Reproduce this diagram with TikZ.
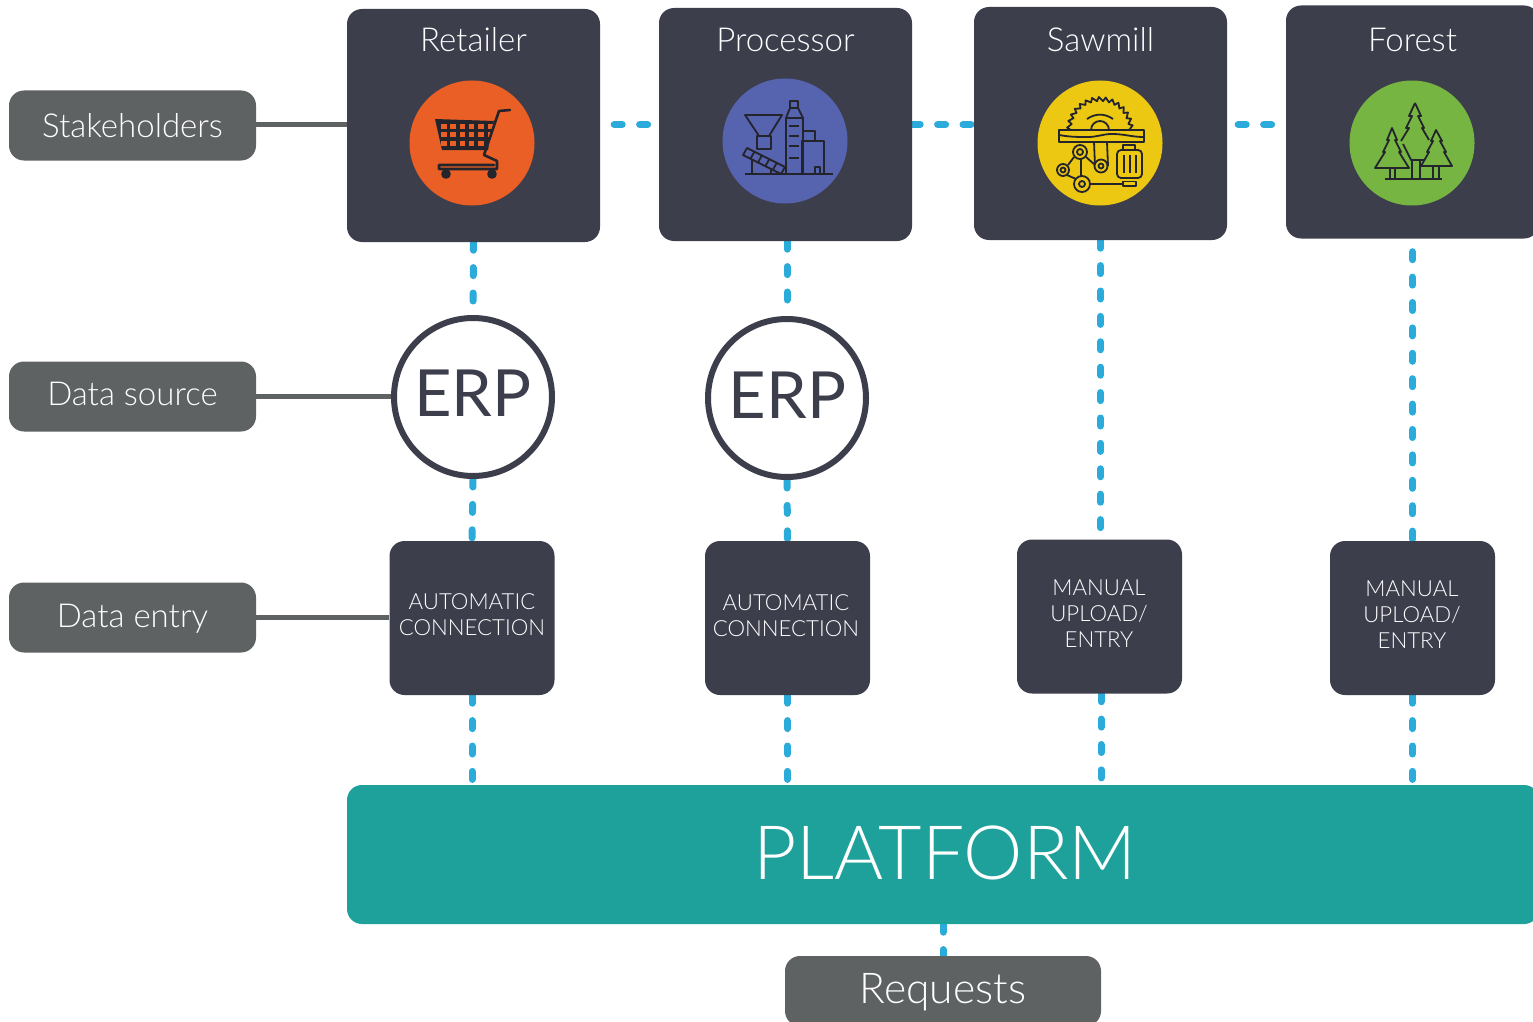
\documentclass[tikz,border=0pt]{standalone}
\usepackage{fontspec}
\setmainfont{Lato Light}
\newfontfamily\erpfont{Lato}
\usetikzlibrary{positioning,backgrounds}

\definecolor{darkbox}{HTML}{3C3E4C}
\definecolor{greybox}{HTML}{5E6262}
\definecolor{tealbox}{HTML}{1FA19B}
\definecolor{dashblue}{HTML}{2AABD9}
\definecolor{cartorange}{HTML}{EA5F25}
\definecolor{procblue}{HTML}{5663AE}
\definecolor{sawyellow}{HTML}{ECC813}
\definecolor{forestgreen}{HTML}{77B543}
\definecolor{iconline}{HTML}{23242C}

\tikzset{
  actor/.style={rectangle,rounded corners=15pt,fill=darkbox,inner sep=0pt,minimum width=253pt,minimum height=233pt},
  entry/.style={rectangle,rounded corners=15pt,fill=darkbox,inner sep=0pt,minimum width=165pt,minimum height=154pt},
  entrytext/.style={text=white,inner sep=0pt,align=center,font=\fontsize{22.2}{26}\selectfont},
  tag/.style={rectangle,rounded corners=15pt,fill=greybox,text=white,inner sep=0pt,minimum width=247pt,minimum height=70pt,text depth=4pt,font=\fontsize{33}{36}\selectfont},
  erp/.style={circle,draw=darkbox,line width=6pt,fill=white,inner sep=0pt,minimum size=158pt},
  erptext/.style={text=darkbox,inner sep=0pt,font=\erpfont\fontsize{65}{65}\selectfont},
  badge/.style={circle,inner sep=0pt,minimum size=125pt},
  title/.style={text=white,inner sep=0pt,font=\fontsize{33}{36}\selectfont},
  link/.style={dashblue,line width=7pt,line cap=round,dash pattern=on 8pt off 17.4pt},
  rule/.style={greybox,line width=4.5pt},
  ink/.style={iconline,line width=1.8pt,line join=round}
}

\begin{document}
\begin{tikzpicture}[x=1pt,y=-1pt]

  \useasboundingbox (0,0) rectangle (1533,1022);
  \clip (0,0) rectangle (1533,1022);

  % row of stakeholders
  \node[actor] (Retailer) at (473.5,125.5) {};
  \node[actor] (Processor) at (785.5,124.5) {};
  \node[actor] (Sawmill) at (1100.5,123.5) {};
  \node[actor] (Forest) at (1412.5,122) {};

  \node[title] (RetailerT) at (473.5,40) {Retailer};
  \node[title] (ProcessorT) at (785.5,40) {Processor};
  \node[title] (SawmillT) at (1100.5,40) {Sawmill};
  \node[title] (ForestT) at (1412.5,40) {Forest};

  \node[badge,fill=cartorange] (Cart) at (472,143) {};
  \node[badge,fill=procblue] (Plant) at (785,141) {};
  \node[badge,fill=sawyellow] (Saw) at (1100,143) {};
  \node[badge,fill=forestgreen] (Trees) at (1412,143) {};

  % data source and entry
  \node[erp] (ErpR) at (473,397) {};
  \node[erp] (ErpP) at (787,398) {};
  \node[erptext] (ErpRT) at (473,393.5) {ERP};
  \node[erptext] (ErpPT) at (787.5,395) {ERP};

  \node[entry] (AutoR) at (472,618) {};
  \node[entry] (AutoP) at (787.5,618) {};
  \node[entry] (ManS) at (1099.5,616.5) {};
  \node[entry] (ManF) at (1412.5,618) {};
  \node[entrytext] (AutoRT) at (472,615) {AUTOMATIC\\CONNECTION};
  \node[entrytext] (AutoPT) at (786,616) {AUTOMATIC\\CONNECTION};
  \node[entrytext] (ManST) at (1099,614) {MANUAL\\UPLOAD/\\ENTRY};
  \node[entrytext] (ManFT) at (1412,614.5) {MANUAL\\UPLOAD/\\ENTRY};

  \node[rectangle,rounded corners=15pt,fill=tealbox,inner sep=0pt,minimum width=1192pt,minimum height=139pt] (Platform) at (943,854.5) {};
  \node[text=white,inner sep=0pt,font=\fontsize{75}{75}\selectfont] (PlatformT) at (945,853) {PLATFORM};
  \node[tag,minimum width=316pt,text height=30pt,text depth=6pt,font=\fontsize{42.5}{44}\selectfont] (Requests) at (943,991) {Requests};

  \node[tag,text height=28pt] (Stake) at (132.5,125.5) {Stakeholders};
  \node[tag,text height=22pt] (Source) at (132.5,396.5) {Data source};
  \node[tag,text height=24pt] (Entry) at (132.5,617.5) {Data entry};

  \begin{scope}[on background layer]
    \fill[white] (0,0) rectangle (1533,1022);

    % grey rules
    \coordinate (LinkY) at (0,124.5);
    \draw[rule] (Stake.east |- LinkY) -- (Retailer.west |- LinkY);
    \draw[rule] (Source.east) -- (Source.east -| ErpR.west);
    \draw[rule] (Entry.east) -- (Entry.east -| AutoR.west);

    % dashed links
    \draw[link] ([xshift=14pt]Retailer.east |- LinkY) -- (Processor.west |- LinkY);
    \draw[link] (Processor.east |- LinkY) -- (Sawmill.west |- LinkY);
    \draw[link] ([xshift=11pt]Sawmill.east |- LinkY) -- (Forest.west |- LinkY);

    \draw[link] (Retailer.south) -- (ErpR.north);
    \draw[link] (ErpR.south) -- (AutoR.north);
    \draw[link] (AutoR.south) -- (AutoR.south |- Platform.north);
    \draw[link] (ErpP.north |- Processor.south) -- (ErpP.north);
    \draw[link] (ErpP.south) -- (AutoP.north);
    \draw[link] (AutoP.south) -- (AutoP.south |- Platform.north);
    \draw[link] (Sawmill.south) -- (Sawmill.south |- ManS.north);
    \draw[link] ([xshift=1.5pt]ManS.south) -- ([xshift=1.5pt]ManS.south |- Platform.north);
    \draw[link] ([yshift=-13pt]Forest.south) -- (ManF.north);
    \draw[link] (ManF.south) -- (ManF.south |- Platform.north);
    \draw[link] (Platform.south) -- (Requests.north);
  \end{scope}

  % cart
  \begin{scope}[shift={(Cart)}]
    \fill[iconline] (-37,-24) -- (22,-22) -- (16,7) -- (-30,7) -- cycle;
    \foreach \i in {0,...,5} \foreach \j in {0,1,2}
      \fill[cartorange] (-31+\i*9.3,-19+\j*8.3) rectangle ++(5.5,5);
    \draw[ink,line width=2.6pt,line cap=round] (38,-33) -- (27,-32) -- (12,12) -- (25,18) -- (25,26) -- (-33,26) -- (-33,22) -- (22,22);
    \draw[ink,fill=iconline,line width=2.6pt] (-26,31) circle (3.5pt) (20,31) circle (3.5pt);
  \end{scope}

  % plant
  \begin{scope}[shift={(Plant)}]
    \draw[ink] (-40,-26) -- (-3,-26) -- (-16,-5) -- (-26,-5) -- cycle;
    \draw[ink] (-28,-5) rectangle (-14,8);
    \draw[ink] (1,33) -- (1,-23) -- (5,-33) -- (13,-33) -- (18,-23) -- (18,33);
    \draw[ink] (5,-40) rectangle (13,-33);
    \draw[ink] (1,-23) -- (18,-23);
    \draw[ink] (17,0) rectangle (39,33);
    \draw[ink] (18,-10) -- (30,-10) -- (30,0);
    \draw[ink] (-40,33) -- (48,33);
    \draw[ink] (-33,15) -- (-33,33) (-14,24) -- (-14,33);
    \draw[ink,fill=procblue] (-42,14) -- (-38,7) -- (0,26) -- (-4,33) -- cycle;
    \foreach \k in {1,...,4} \draw[ink] (-38+\k*7.4,7+\k*3.8) -- ++(-4,7);
    \draw[ink] (30,33) rectangle (35,26);
    \draw[ink] (4,-15) -- (14,-15) (4,-5) -- (14,-5) (4,5) -- (14,5) (4,17) -- (14,17);
  \end{scope}

  % saw
  \begin{scope}[shift={(Saw)}]
    \draw[ink] (-28,-13) \foreach \a in {0,12,...,168} {-- ({-cos(\a)*29},{-13-sin(\a)*29}) -- ({-cos(\a+4)*33},{-13-sin(\a+4)*33}) -- ({-cos(\a+12)*29},{-13-sin(\a+12)*29})};
    \draw[ink] (-9,-13) arc[start angle=180,end angle=0,radius=9pt];
    \draw[ink] (-13,-24) to [bend left=35] (13,-24);
    \draw[ink,fill=sawyellow] (-41,-13) rectangle (44,-1);
    \draw[ink] (-41,-8) to [out=-10,in=180] (-12,-6) to [out=0,in=180] (12,-9) to [out=0,in=180] (44,-6);
    \draw[ink] (-6,-1) -- (-5,23) (7,-1) -- (8,23);
    \draw[ink,fill=sawyellow] (-20,9) circle (7pt) (1,23) circle (6.5pt) (-37,27) circle (6pt) (-18,41) circle (8pt);
    \draw[ink] (-20,9) circle (3pt) (1,23) circle (2.5pt) (-37,27) circle (2.5pt) (-18,41) circle (3pt);
    \draw[ink] (-14,14) -- (-5,22) (-26,14) -- (-32,22) (-19,16) -- (-19,33) (-33,32) -- (-24,36);
    \draw[ink] (-10,41) -- (23,41);
    \draw[ink] (23,38.5) rectangle (36,43);
    \draw[ink,rounded corners=4pt] (17,7) rectangle (42,35);
    \draw[ink] (23,2) rectangle (35,7);
    \draw[ink] (24,12) -- (24,30) (30,12) -- (30,30) (36,12) -- (36,30);
  \end{scope}

  % trees
  \begin{scope}[shift={(Trees)}]
    \draw[ink] (3,-40) -- (-3,-27) -- (0,-27) -- (-6,-15) -- (-3,-15) -- (-11,-2);
    \draw[ink] (3,-40) -- (9,-27) -- (6,-27) -- (12,-15) -- (10,-15) -- (17,-3);
    \draw[ink] (-9,1) -- (-1,17) -- (12,17);
    \draw[ink,fill=forestgreen] (-20,-15) -- (-25,-3) -- (-23,-3) -- (-29,9) -- (-27,9) -- (-37,25) -- (-3,25) -- (-13,9) -- (-11,9) -- (-17,-3) -- (-15,-3) -- cycle;
    \draw[ink,fill=forestgreen] (24,-13) -- (19,-2) -- (21,-2) -- (15,9) -- (17,9) -- (9,23) -- (40,23) -- (32,9) -- (34,9) -- (28,-2) -- (30,-2) -- cycle;
    \draw[ink] (0,17) -- (0,35) (8,17) -- (8,35);
    \draw[ink] (-22,25) -- (-22,35) (-17,25) -- (-17,35);
    \draw[ink] (21,23) -- (21,35) (27,23) -- (27,35);
    \draw[ink] (-27,36) -- (30,36);
  \end{scope}

\end{tikzpicture}
\end{document}
